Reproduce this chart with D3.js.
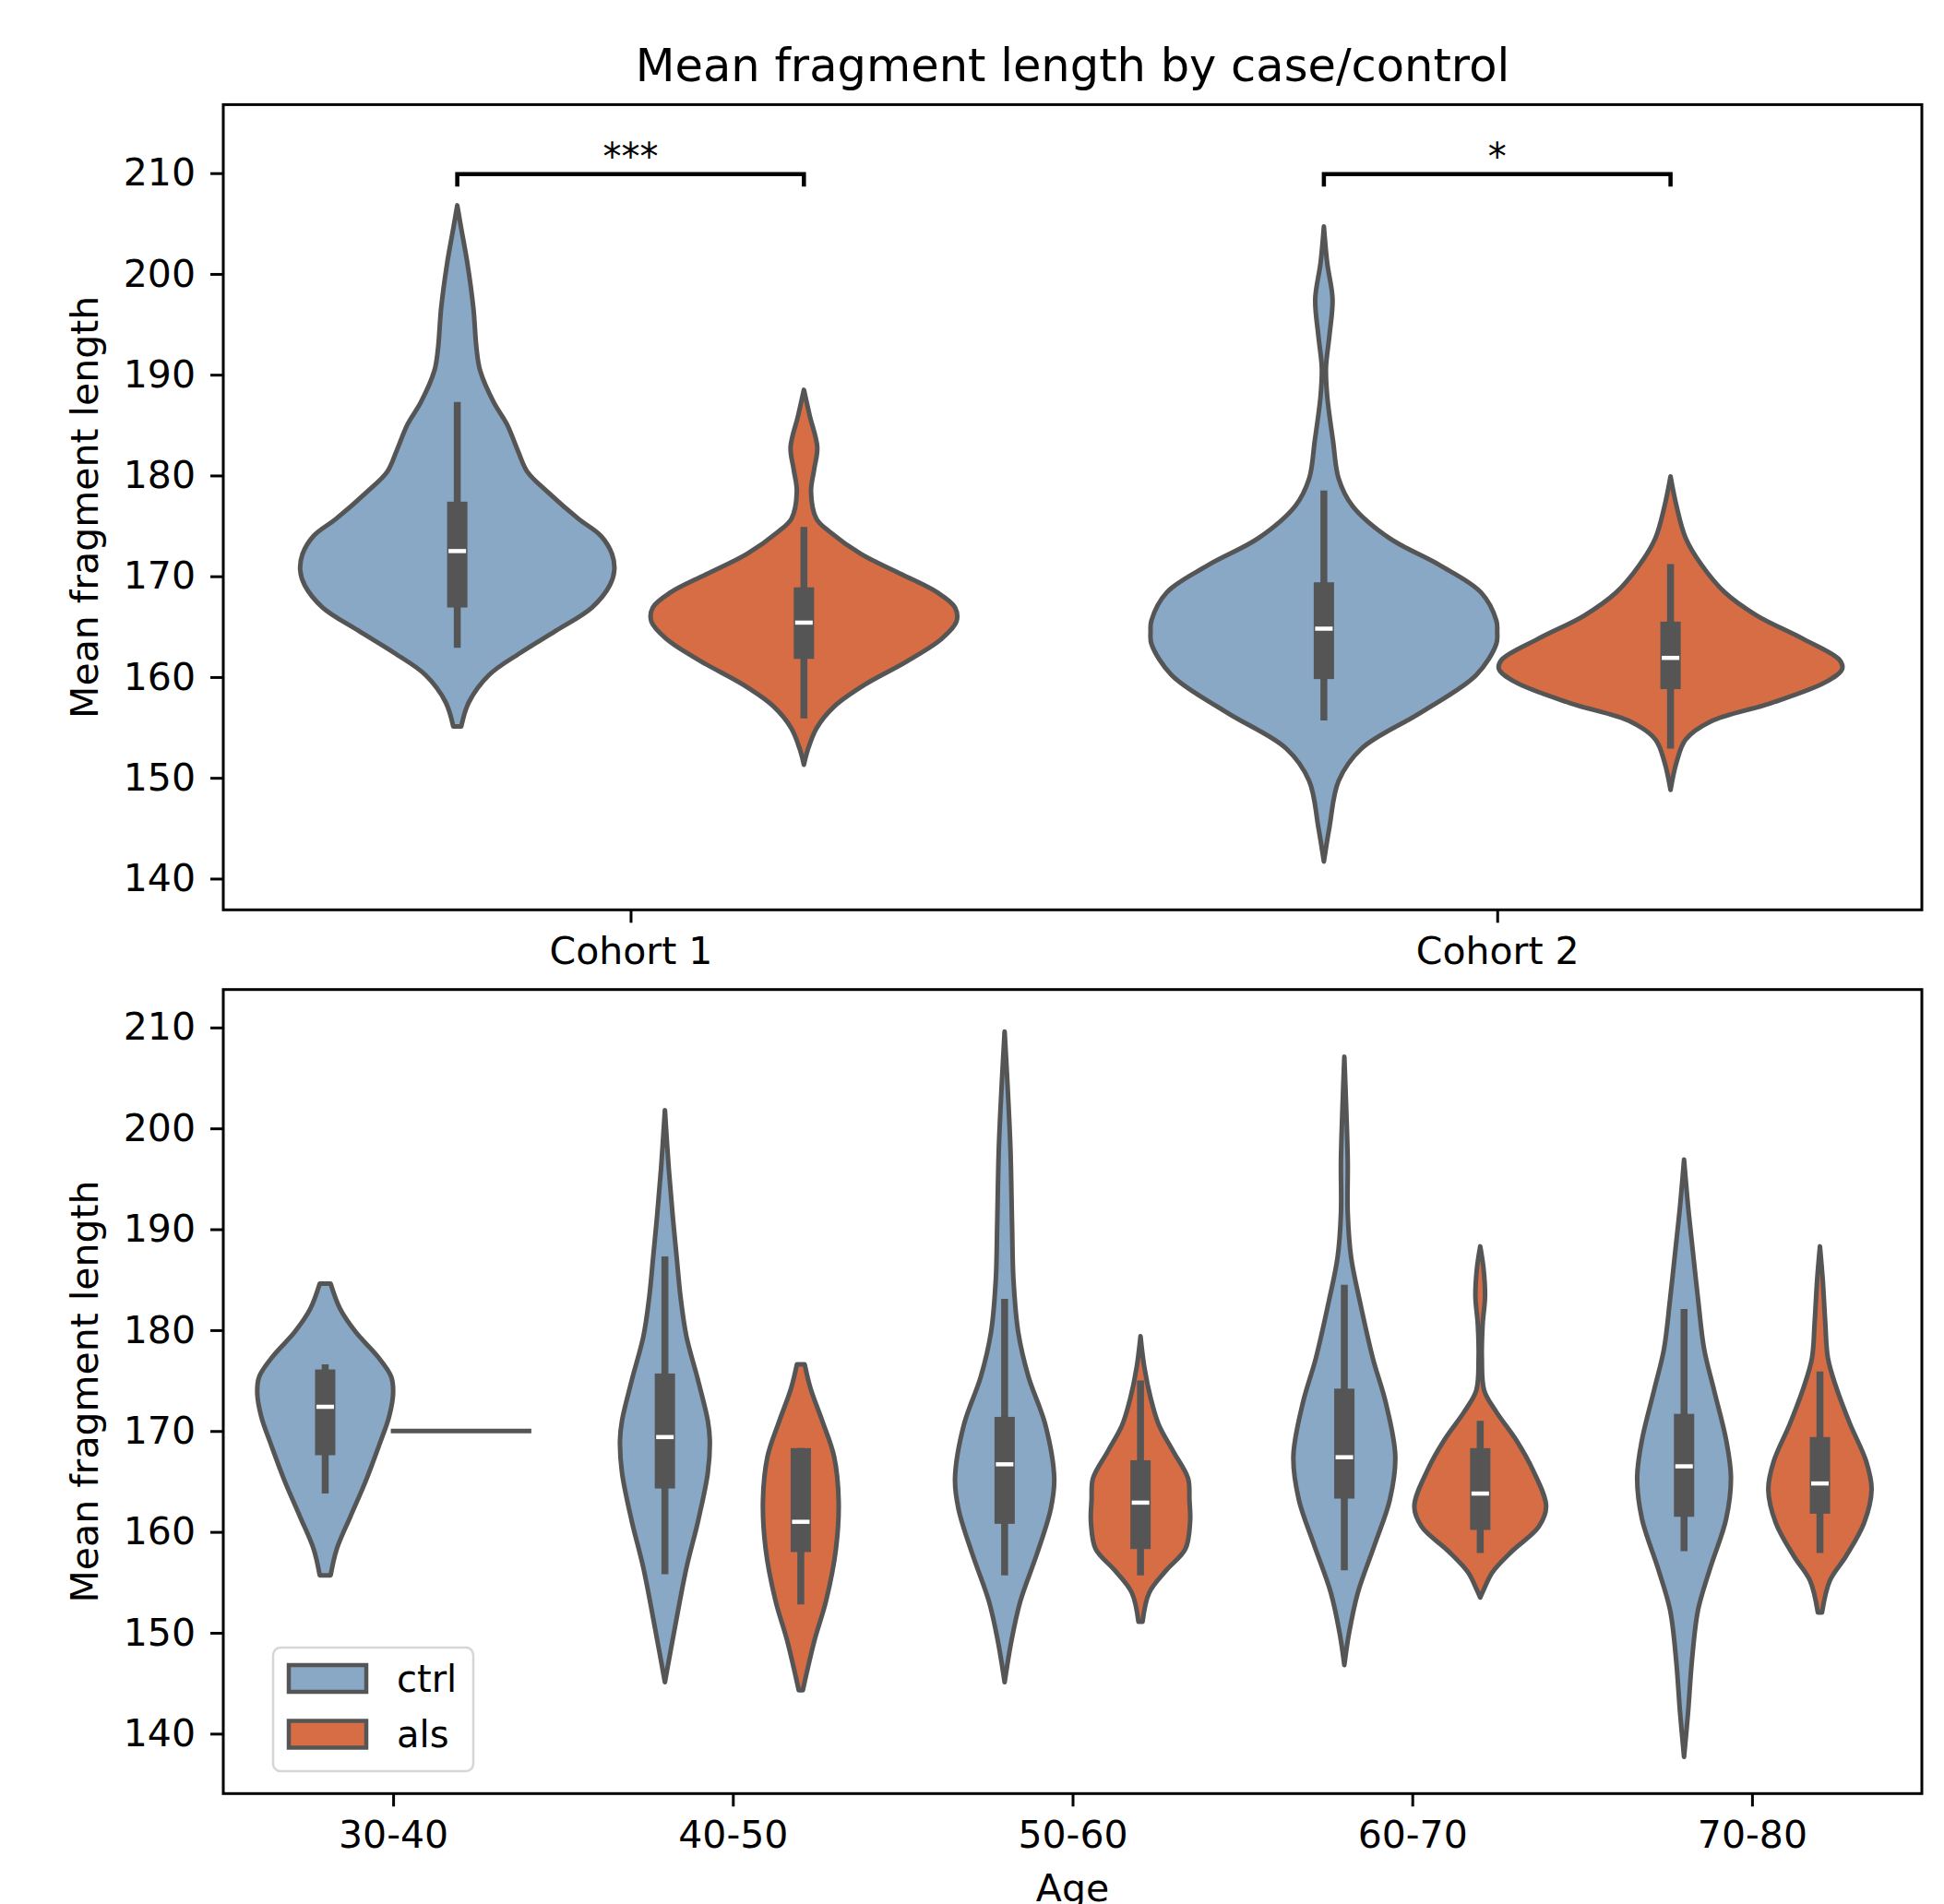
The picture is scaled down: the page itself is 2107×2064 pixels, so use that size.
<!DOCTYPE html>
<html>
<head>
<meta charset="utf-8">
<script src="https://cdn.jsdelivr.net/npm/d3@7"></script>
<style>
  body { margin: 0; background: #fff; }
  text { font-family: "DejaVu Sans", sans-serif; }
</style>
</head>
<body>
<div id="chart"></div>
<script>
// Categories and labels
var cohorts = ["Cohort 1", "Cohort 2"];
var ageGroups = ["30-40", "40-50", "50-60", "60-70", "70-80"];
var groups = ["ctrl", "als"];
var yTicks = [140, 150, 160, 170, 180, 190, 200, 210];
var pLabels = ["***", "*"];

// Violin outlines: [value, relative half width]
var cohortCtrlShapes = [
    [[206.8,0],[204.6,0.022],[201.0,0.059],[196.6,0.093],[192.6,0.111],[190.4,0.132],[187.3,0.209],[185.1,0.286],[182.4,0.351],[180.4,0.403],[178.4,0.519],[175.7,0.699],[174.0,0.829],[172.2,0.893],[170.6,0.906],[169.1,0.880],[166.9,0.777],[164.6,0.570],[162.4,0.364],[160.2,0.183],[157.5,0.067],[155.1,0.023]],
    [[204.7,0],[201.1,0.019],[197.5,0.05],[193.9,0.032],[190.7,0.012],[187.9,0.019],[183.4,0.053],[179.7,0.085],[177.0,0.164],[173.8,0.376],[171.1,0.668],[168.4,0.906],[165.6,0.995],[164.5,1.0],[163.3,0.995],[160.2,0.879],[156.5,0.562],[152.9,0.217],[149.7,0.085],[145.1,0.032],[141.7,0]]
];
var cohortAlsShapes = [
    [[188.5,0],[185.9,0.034],[182.8,0.077],[180.6,0.059],[178.4,0.041],[175.7,0.072],[174.4,0.150],[172.2,0.330],[170.2,0.563],[168.4,0.769],[166.9,0.872],[165.5,0.880],[163.8,0.795],[161.5,0.588],[159.3,0.356],[157.1,0.176],[154.9,0.072],[152.7,0.021],[151.3,0]],
    [[179.9,0],[177.0,0.034],[173.8,0.087],[171.1,0.180],[168.4,0.313],[166.1,0.498],[163.8,0.763],[161.7,0.975],[160.8,0.99],[159.5,0.895],[157.4,0.577],[155.6,0.233],[153.8,0.087],[151.5,0.034],[148.8,0]]
];
// Inner boxes: [low whisker, q1, median, q3, high whisker]
var cohortCtrlBoxes = [[162.9, 166.9, 172.5, 177.4, 187.3], [155.7, 159.8, 164.8, 169.4, 178.5]];
var cohortAlsBoxes = [[155.9, 161.8, 165.4, 168.9, 174.9], [152.9, 158.8, 161.9, 165.5, 171.2]];

var ageCtrlShapes = [
    [[184.6,0.08],[182.1,0.22],[179.8,0.45],[177.4,0.77],[175.4,0.97],[173.8,1.0],[171.4,0.94],[168.7,0.80],[165.1,0.60],[161.5,0.37],[158.3,0.17],[155.7,0.08]],
    [[201.8,0],[196.0,0.057],[191.3,0.115],[187.3,0.172],[183.3,0.23],[179.4,0.316],[175.0,0.489],[171.0,0.632],[169.1,0.661],[165.9,0.632],[161.1,0.489],[156.4,0.316],[150.4,0.144],[145.1,0]],
    [[209.6,0],[204.7,0.04],[198.1,0.085],[190.3,0.11],[185.0,0.13],[179.8,0.2],[175.4,0.35],[170.6,0.6],[165.3,0.73],[162.3,0.68],[157.9,0.48],[153.1,0.23],[149.2,0.1],[145.1,0]],
    [[207.1,0],[202.5,0.025],[196.8,0.05],[191.6,0.05],[187.2,0.1],[182.8,0.23],[177.2,0.42],[172.8,0.61],[167.5,0.75],[163.2,0.67],[158.8,0.45],[154.0,0.2],[150.0,0.07],[146.8,0]],
    [[196.9,0],[192.3,0.059],[187.4,0.136],[183.0,0.207],[178.1,0.296],[174.0,0.443],[169.1,0.62],[165.4,0.69],[161.3,0.62],[156.4,0.384],[152.3,0.207],[147.4,0.118],[142.1,0.059],[137.7,0]]
];
var ageAlsShapes = [
    [[170.0,1.0]],  // a single sample: drawn as a flat line
    [[176.6,0.057],[174.2,0.144],[171.0,0.316],[167.5,0.489],[163.1,0.557],[158.3,0.517],[153.2,0.373],[149.2,0.2],[144.3,0.03]],
    [[179.4,0],[176.3,0.057],[173.2,0.152],[170.6,0.27],[168.0,0.48],[165.3,0.70],[163.2,0.72],[161.0,0.73],[158.3,0.66],[156.2,0.38],[154.0,0.13],[151.1,0.03]],
    [[188.3,0],[186.2,0.047],[183.4,0.071],[180.5,0.035],[177.2,0.024],[174.0,0.059],[171.9,0.236],[169.1,0.53],[166.2,0.77],[162.5,0.97],[160.5,0.86],[158.1,0.47],[156.0,0.18],[154.4,0.06],[153.5,0]],
    [[188.3,0],[185.0,0.041],[180.9,0.077],[177.2,0.118],[174.4,0.236],[170.7,0.443],[167.0,0.68],[164.2,0.76],[160.9,0.65],[157.6,0.384],[155.2,0.148],[152.0,0.03]]
];
var ageCtrlBoxes = [[163.8, 167.6, 172.4, 176.1, 176.6], [155.8, 164.3, 169.4, 175.7, 187.3], [155.7, 160.8, 166.7, 171.4, 183.1], [156.2, 163.3, 167.4, 174.2, 184.5], [158.1, 161.5, 166.5, 171.7, 182.1]];
var ageAlsBoxes = [null, [152.8, 158.0, 161.0, 168.3, 168.3], [155.7, 158.3, 162.9, 167.1, 175.0], [157.9, 160.2, 163.8, 168.3, 171.0], [157.9, 161.8, 164.8, 169.4, 175.9]];

var colors = { ctrl: "#88a8c6", als: "#d66d45" };
var gray = "#555555";
var halfMax = 0.2;   // max half width of a violin, in category units
var dodge = 0.2;

var svg = d3.select("#chart").append("svg")
    .attr("width", 2107)
    .attr("height", 2064);

var left = 242, right = 2083;

// Top panel scales
var xTop = d3.scaleLinear().domain([-0.47, 1.49]).range([left, right]);
var yTop = d3.scaleLinear().domain([136.9, 216.8]).range([986.3, 113.4]);
// Bottom panel scales
var xBot = d3.scaleLinear().domain([-0.5, 4.5]).range([left, right]);
var yBot = d3.scaleLinear().domain([134.06, 213.76]).range([1944.3, 1072.7]);

function drawViolin(g, x, y, cx, shape, color) {
    if (shape.length === 1) {
        g.append("line")
            .attr("x1", x(cx - shape[0][1] * halfMax))
            .attr("x2", x(cx + shape[0][1] * halfMax))
            .attr("y1", y(shape[0][0]))
            .attr("y2", y(shape[0][0]))
            .attr("stroke", gray)
            .attr("stroke-width", 5)
            .attr("stroke-linecap", "square");
        return;
    }
    var area = d3.area()
        .curve(d3.curveCatmullRom)
        .y(function (d) { return y(d[0]); })
        .x0(function (d) { return x(cx - d[1] * halfMax); })
        .x1(function (d) { return x(cx + d[1] * halfMax); });
    g.append("path")
        .datum(shape)
        .attr("d", area)
        .attr("fill", color)
        .attr("stroke", gray)
        .attr("stroke-width", 5)
        .attr("stroke-linejoin", "round");
}

function drawBox(g, x, y, cx, b) {
    if (!b) return;
    var px = x(cx);
    g.append("line")
        .attr("x1", px).attr("x2", px)
        .attr("y1", y(b[0])).attr("y2", y(b[4]))
        .attr("stroke", gray).attr("stroke-width", 7.5);
    g.append("rect")
        .attr("x", px - 11).attr("width", 22)
        .attr("y", y(b[3])).attr("height", y(b[1]) - y(b[3]))
        .attr("fill", gray);
    g.append("line")
        .attr("x1", px - 9.5).attr("x2", px + 9.5)
        .attr("y1", y(b[2])).attr("y2", y(b[2]))
        .attr("stroke", "#fff").attr("stroke-width", 4.5);
}

function drawPanel(x, y, cats, ctrlShapes, alsShapes, ctrlBoxes, alsBoxes) {
    var g = svg.append("g");
    cats.forEach(function (c, i) {
        drawViolin(g, x, y, i - dodge, ctrlShapes[i], colors.ctrl);
        drawBox(g, x, y, i - dodge, ctrlBoxes[i]);
        drawViolin(g, x, y, i + dodge, alsShapes[i], colors.als);
        drawBox(g, x, y, i + dodge, alsBoxes[i]);
    });

    var y0 = y.range()[0], y1 = y.range()[1];

    // Axes
    var xa = svg.append("g")
        .attr("transform", "translate(0," + y0 + ")")
        .call(d3.axisBottom(x).tickValues(d3.range(cats.length))
            .tickFormat(function (i) { return cats[i]; })
            .tickSize(14).tickPadding(16));
    var ya = svg.append("g")
        .attr("transform", "translate(" + left + ",0)")
        .call(d3.axisLeft(y).tickValues(yTicks).tickSize(14).tickPadding(16));
    [xa, ya].forEach(function (a) {
        a.select(".domain").remove();
        a.selectAll("line").attr("stroke", "#000").attr("stroke-width", 3);
        a.selectAll("text").attr("font-size", 41).attr("font-family", "DejaVu Sans").attr("fill", "#000");
    });

    // Frame
    svg.append("rect")
        .attr("x", left).attr("y", y1)
        .attr("width", right - left).attr("height", y0 - y1)
        .attr("fill", "none").attr("stroke", "#000").attr("stroke-width", 3);

    // Y label
    svg.append("text")
        .attr("transform", "translate(106," + (y0 + y1) / 2 + ") rotate(-90)")
        .attr("text-anchor", "middle")
        .attr("font-size", 41)
        .text("Mean fragment length");
}

drawPanel(xTop, yTop, cohorts, cohortCtrlShapes, cohortAlsShapes, cohortCtrlBoxes, cohortAlsBoxes);
drawPanel(xBot, yBot, ageGroups, ageCtrlShapes, ageAlsShapes, ageCtrlBoxes, ageAlsBoxes);

// Significance brackets
pLabels.forEach(function (p, i) {
    var x1 = xTop(i - dodge), x2 = xTop(i + dodge);
    var yl = yTop(209.9), yb = yTop(208.66);
    svg.append("path")
        .attr("d", "M" + x1 + "," + yb + "V" + yl + "H" + x2 + "V" + yb)
        .attr("fill", "none")
        .attr("stroke", "#000")
        .attr("stroke-width", 4.5);
    svg.append("text")
        .attr("x", xTop(i))
        .attr("y", yl - 4.5)
        .attr("text-anchor", "middle")
        .attr("font-size", 40)
        .text(p);
});

// Title
svg.append("text")
    .attr("x", (left + right) / 2)
    .attr("y", 88)
    .attr("text-anchor", "middle")
    .attr("font-size", 49.5)
    .text("Mean fragment length by case/control");

// X label of bottom panel
svg.append("text")
    .attr("x", (left + right) / 2)
    .attr("y", 2061)
    .attr("text-anchor", "middle")
    .attr("font-size", 41)
    .text("Age");

// Legend
var lg = svg.append("g");
lg.append("rect")
    .attr("x", 296).attr("y", 1786)
    .attr("width", 217).attr("height", 134)
    .attr("rx", 8)
    .attr("fill", "#fff").attr("fill-opacity", 0.8)
    .attr("stroke", "#d6d6d6").attr("stroke-width", 2.5);
groups.forEach(function (k, i) {
    lg.append("rect")
        .attr("x", 313).attr("y", 1805 + i * 60.5)
        .attr("width", 84).attr("height", 29)
        .attr("fill", colors[k])
        .attr("stroke", gray).attr("stroke-width", 4.5);
    lg.append("text")
        .attr("x", 430).attr("y", 1834 + i * 60)
        .attr("font-size", 40)
        .text(k);
});
</script>
</body>
</html>
